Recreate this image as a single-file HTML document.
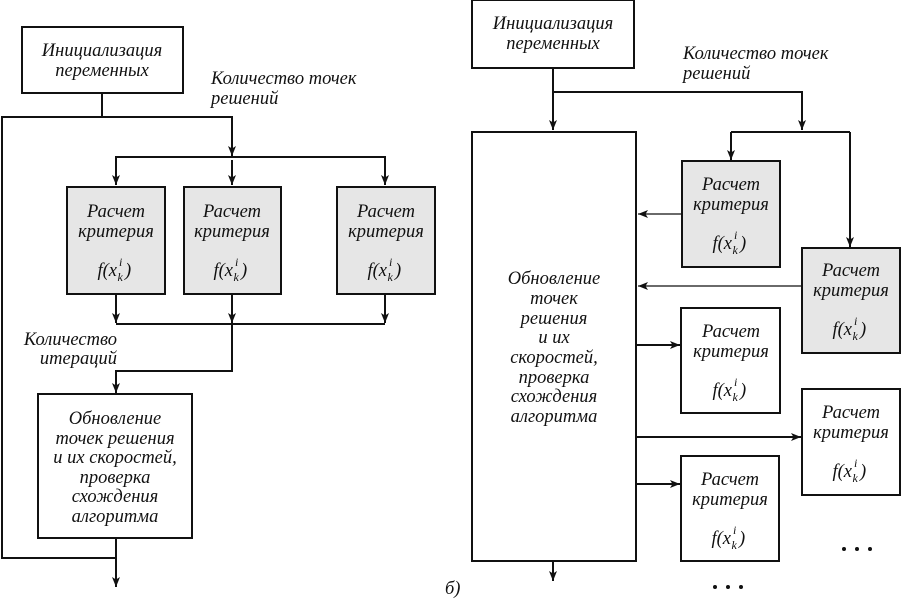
<!DOCTYPE html>
<html><head><meta charset="utf-8"><style>
html,body{margin:0;padding:0;background:#fff;}
svg{display:block;}
text{font-family:"Liberation Serif",serif;font-style:italic;font-size:18.5px;fill:#111;}
.c{text-anchor:middle;}
.s{font-size:12px;}
</style></head><body>
<svg width="901" height="599" viewBox="0 0 901 599" xmlns="http://www.w3.org/2000/svg">
<defs>
<marker id="a" markerWidth="12" markerHeight="12" refX="10" refY="5" orient="auto" markerUnits="userSpaceOnUse">
<path d="M0,1 L10,5 L0,9 L2.5,5 z" fill="#111"/></marker>
<g id="f">
<text x="3" y="0" text-anchor="end" font-size="20">f(x</text>
<text x="3.5" y="5" class="s">k</text>
<text x="5" y="-10" class="s">i</text>
<text x="11" y="0" font-size="20">)</text>
</g>
</defs>
<g stroke="#111" stroke-width="2" fill="none">
<!-- LEFT -->
<rect x="22" y="27" width="161" height="66" fill="#fff"/>
<polyline points="102,93 102,117 232,117 232,156" marker-end="url(#a)"/>
<polyline points="102,117 2,117 2,558 116,558"/>
<polyline points="116,184 116,157 385,157 385,184"/>
<line x1="116" y1="160" x2="116" y2="185" marker-end="url(#a)"/>
<line x1="232" y1="160" x2="232" y2="185" marker-end="url(#a)"/>
<line x1="385" y1="160" x2="385" y2="185" marker-end="url(#a)"/>
<rect x="67" y="187" width="98" height="107" fill="#e6e6e6"/>
<rect x="184" y="187" width="97" height="107" fill="#e6e6e6"/>
<rect x="337" y="187" width="98" height="107" fill="#e6e6e6"/>
<line x1="116" y1="294" x2="116" y2="323" marker-end="url(#a)"/>
<line x1="232" y1="294" x2="232" y2="323" marker-end="url(#a)"/>
<line x1="385" y1="294" x2="385" y2="323" marker-end="url(#a)"/>
<line x1="116" y1="324" x2="385" y2="324"/>
<polyline points="232,324 232,371 116,371 116,393" marker-end="url(#a)"/>
<rect x="38" y="394" width="154" height="144" fill="#fff"/>
<line x1="116" y1="538" x2="116" y2="587" marker-end="url(#a)"/>
<!-- RIGHT -->
<rect x="472" y="0" width="162" height="68" fill="#fff"/>
<line x1="553" y1="68" x2="553" y2="130" marker-end="url(#a)"/>
<polyline points="553,92 802,92 802,130" marker-end="url(#a)"/>
<polyline points="731,132 850,132"/>
<line x1="731" y1="132" x2="731" y2="160" marker-end="url(#a)"/>
<line x1="850" y1="132" x2="850" y2="247" marker-end="url(#a)"/>
<rect x="472" y="132" width="164" height="429" fill="#fff"/>
<line x1="553" y1="561" x2="553" y2="581" marker-end="url(#a)"/>
<rect x="682" y="161" width="98" height="106" fill="#e6e6e6"/>
<rect x="802" y="248" width="98" height="105" fill="#e6e6e6"/>
<rect x="681" y="308" width="99" height="105" fill="#fff"/>
<rect x="802" y="389" width="98" height="106" fill="#fff"/>
<rect x="681" y="456" width="98" height="105" fill="#fff"/>
</g>
<g stroke="#111" fill="none">
<line x1="682" y1="214" x2="638" y2="214" stroke-width="1.3" marker-end="url(#a)"/>
<line x1="802" y1="286" x2="638" y2="286" stroke-width="1.3" marker-end="url(#a)"/>
<line x1="637" y1="345" x2="680" y2="345" stroke-width="2" marker-end="url(#a)"/>
<line x1="637" y1="437" x2="801" y2="437" stroke-width="2" marker-end="url(#a)"/>
<line x1="637" y1="484" x2="680" y2="484" stroke-width="2" marker-end="url(#a)"/>
</g>
<g fill="#111">
<circle cx="844" cy="549" r="2"/><circle cx="857" cy="549" r="2"/><circle cx="870" cy="549" r="2"/>
<circle cx="715" cy="587" r="2"/><circle cx="728" cy="587" r="2"/><circle cx="741" cy="587" r="2"/>
</g>
<!-- text -->
<text class="c" x="102" y="56">Инициализация</text>
<text class="c" x="102" y="76">переменных</text>
<text x="211" y="84">Количество точек</text>
<text x="211" y="104">решений</text>
<text x="117" y="345" text-anchor="end">Количество</text>
<text x="117" y="364" text-anchor="end">итераций</text>
<text class="c" x="115" y="424">Обновление</text>
<text class="c" x="115" y="444">точек решения</text>
<text class="c" x="115" y="463">и их скоростей,</text>
<text class="c" x="115" y="483">проверка</text>
<text class="c" x="115" y="502">схождения</text>
<text class="c" x="115" y="522">алгоритма</text>

<text class="c" x="553" y="29">Инициализация</text>
<text class="c" x="553" y="49">переменных</text>
<text x="683" y="59">Количество точек</text>
<text x="683" y="79">решений</text>
<text class="c" x="554" y="284">Обновление</text>
<text class="c" x="554" y="304">точек</text>
<text class="c" x="554" y="324">решения</text>
<text class="c" x="554" y="343">и их</text>
<text class="c" x="554" y="363">скоростей,</text>
<text class="c" x="554" y="383">проверка</text>
<text class="c" x="554" y="402">схождения</text>
<text class="c" x="554" y="422">алгоритма</text>
<text x="445" y="594" font-size="15">б)</text>

<text class="c" x="116" y="217">Расчет</text><text class="c" x="116" y="237">критерия</text>
<use href="#f" x="114" y="276"/>
<text class="c" x="232" y="217">Расчет</text><text class="c" x="232" y="237">критерия</text>
<use href="#f" x="230" y="276"/>
<text class="c" x="386" y="217">Расчет</text><text class="c" x="386" y="237">критерия</text>
<use href="#f" x="384" y="276"/>

<text class="c" x="731" y="190">Расчет</text><text class="c" x="731" y="210">критерия</text>
<use href="#f" x="729" y="249"/>
<text class="c" x="851" y="276">Расчет</text><text class="c" x="851" y="296">критерия</text>
<use href="#f" x="849" y="335"/>
<text class="c" x="731" y="337">Расчет</text><text class="c" x="731" y="357">критерия</text>
<use href="#f" x="729" y="396"/>
<text class="c" x="851" y="418">Расчет</text><text class="c" x="851" y="438">критерия</text>
<use href="#f" x="849" y="477"/>
<text class="c" x="730" y="485">Расчет</text><text class="c" x="730" y="505">критерия</text>
<use href="#f" x="728" y="544"/>
</svg>
</body></html>
